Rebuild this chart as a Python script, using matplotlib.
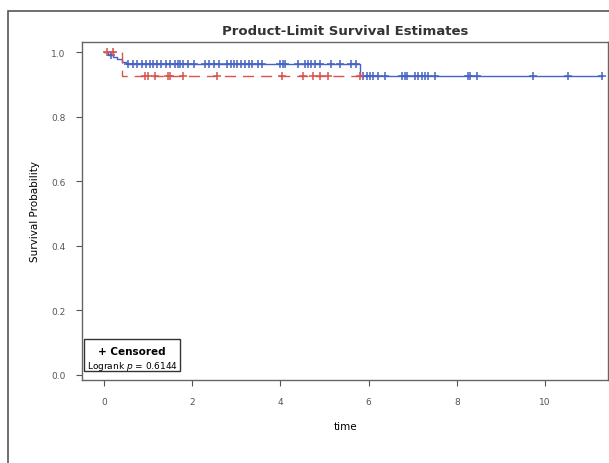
import matplotlib.pyplot as plt
from matplotlib.patches import Rectangle

# step curves (time, survival)
blue_t = [0.0, 0.1, 0.2, 0.3, 0.4, 0.5, 5.8, 11.3]
blue_s = [1.0, 0.99, 0.985, 0.978, 0.97, 0.963, 0.926, 0.926]
red_t = [0.0, 0.41, 5.85]
red_s = [1.0, 0.926, 0.926]

# censored times
blue_cens_a = [0.15, 0.55, 0.65, 0.75, 0.85, 0.95, 1.05, 1.12, 1.2, 1.3, 1.4, 1.5,
               1.6, 1.68, 1.73, 1.8, 1.9, 2.05, 2.3, 2.38, 2.5, 2.6, 2.8, 2.88,
               2.95, 3.02, 3.1, 3.2, 3.28, 3.35, 3.5, 3.58, 3.98, 4.05, 4.1, 4.4,
               4.55, 4.62, 4.7, 4.78, 4.9, 5.15, 5.35, 5.6, 5.72]
blue_cens_b = [5.87, 5.96, 6.03, 6.1, 6.21, 6.37, 6.76, 6.82, 6.87, 7.05, 7.12,
               7.21, 7.28, 7.35, 7.51, 8.25, 8.3, 8.46, 9.73, 10.52, 11.29]
red_cens_a = [0.07, 0.2]
red_cens_b = [0.93, 1.0, 1.16, 1.45, 1.5, 1.79, 2.56, 4.04, 4.51, 4.74, 4.9,
              5.08, 5.8]

blue = '#4562c4'
red = '#d9534f'

fig = plt.figure(figsize=(6.09, 4.64), dpi=100)
fig.patches.append(Rectangle((8/609, -0.1), 1.2, 1 - 12/464 + 0.1,
                             transform=fig.transFigure, fill=False,
                             edgecolor='#555555', linewidth=1.2))
ax = fig.add_axes([82/609, 1 - 381/464, 526/609, 338/464])

ax.step(blue_t, blue_s, where='post', color=blue, linewidth=1)
ax.step(red_t, red_s, where='post', color=red, linewidth=1, dashes=(8, 5))
mk = dict(marker='+', linestyle='none', markersize=5.5, markeredgewidth=1.1)
ax.plot(blue_cens_a, [0.963 if t > 0.5 else 0.99 for t in blue_cens_a],
        color=blue, **mk)
ax.plot(blue_cens_b, [0.926] * len(blue_cens_b), color=blue, **mk)
ax.plot(red_cens_a, [1.0] * len(red_cens_a), color=red, **mk)
ax.plot(red_cens_b, [0.926] * len(red_cens_b), color=red, **mk)

ax.set_xlim(-0.5, 11.43)
ax.set_ylim(-0.0155, 1.031)
ax.set_xticks([0, 2, 4, 6, 8, 10])
ax.set_yticks([0.0, 0.2, 0.4, 0.6, 0.8, 1.0])
ax.set_yticklabels(['0.0', '0.2', '0.4', '0.6', '0.8', '1.0'])
ax.tick_params(labelsize=6.5, labelcolor='#555555', color='#555555',
               length=4, width=0.8, pad=8)
for sp in ax.spines.values():
    sp.set_color('#666666')
    sp.set_linewidth(1)

ax.set_xlabel('time', fontsize=7.5, labelpad=11)
ax.set_ylabel('Survival Probability', fontsize=7.5, labelpad=8)
ax.set_title('Product-Limit Survival Estimates', fontsize=9.5,
             fontweight='bold', color='#333333', pad=6)

# legend box
ax.text(0.095, 0.086, '+ Censored', transform=ax.transAxes, fontsize=7.5,
        fontweight='bold', ha='center', va='center')
ax.text(0.009, 0.044, 'Logrank $p$ = 0.6144', transform=ax.transAxes,
        fontsize=6.5, ha='left', va='center')
ax.add_patch(Rectangle((0.004, 0.027), 0.182, 0.094, transform=ax.transAxes,
                       fill=False, edgecolor='#333333', linewidth=1))

fig.savefig('out.png', dpi=100)
